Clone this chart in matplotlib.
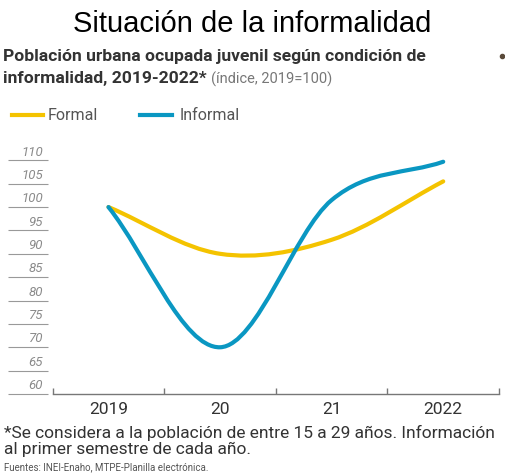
import numpy as np
import matplotlib
matplotlib.use('Agg')
import matplotlib.pyplot as plt
from matplotlib.path import Path
from matplotlib.patches import PathPatch

years = ['2019', '20', '21', '2022']
formal = [100, 90, 93, 105.5]
informal = [100, 70, 101.5, 109.7]
yticks = [60, 65, 70, 75, 80, 85, 90, 95, 100, 105, 110]

YELLOW = '#F4C300'
BLUE = '#0A97C2'
NARROW = ['Roboto', 'DejaVu Sans']


def smooth_path(vals):
    # cubic bezier through the points (catmull-rom style tangents)
    x = np.arange(len(vals), dtype=float)
    y = np.array(vals, dtype=float)
    m = np.gradient(y)
    verts = [(x[0], y[0])]
    codes = [Path.MOVETO]
    for i in range(len(x) - 1):
        verts += [(x[i] + 1 / 3, y[i] + m[i] / 3),
                  (x[i + 1] - 1 / 3, y[i + 1] - m[i + 1] / 3),
                  (x[i + 1], y[i + 1])]
        codes += [Path.CURVE4] * 3
    return Path(verts, codes)


W, H = 505, 477
fig = plt.figure(figsize=(W / 100, H / 100), dpi=100)
ax = fig.add_axes([52.7 / W, 1 - 395 / H, 446.3 / W, 243 / H])
ax.set_xlim(-0.5, 3.5)
ax.set_ylim(60, 112)

for vals, col in [(formal, YELLOW), (informal, BLUE)]:
    ax.add_patch(PathPatch(smooth_path(vals), facecolor='none', edgecolor=col,
                           lw=3, capstyle='round', joinstyle='round'))

for s in ['top', 'right', 'left']:
    ax.spines[s].set_visible(False)
ax.spines['bottom'].set_color('#777777')
ax.spines['bottom'].set_linewidth(1)
ax.set_yticks([])
ax.set_xticks([-0.5, 0.5, 1.5, 2.5, 3.5])
ax.set_xticklabels([])
ax.tick_params(axis='x', direction='in', length=4, color='#777777', width=1)
for i, lab in enumerate(years):
    ax.text(i, -0.03, lab, transform=ax.get_xaxis_transform(), ha='center', va='top',
            fontsize=12.5, color='#333333', family=NARROW)

# y labels with short rules at the left
ytr = ax.get_yaxis_transform()
ax.hlines(yticks, -0.100, -0.0105, transform=ytr, color='#999999', lw=0.8, clip_on=False)
for v in yticks:
    ax.text(-0.0217, v + 0.6, str(v), transform=ytr, ha='right', va='bottom',
            fontsize=9.5, style='italic', color='#8a8a8a', family=NARROW)

# titles
fig.text(0.5, 1 - 24 / H, 'Situación de la informalidad', ha='center', va='center',
         fontsize=21, family='Liberation Sans', color='black')
fig.text(3 / W, 1 - 56 / H, 'Población urbana ocupada juvenil según condición de',
         ha='left', va='center', fontsize=12.6, weight='bold', color='#333333', family=NARROW)
t = fig.text(3 / W, 1 - 79 / H, 'informalidad, 2019-2022*',
             ha='left', va='center', fontsize=12.6, weight='bold', color='#333333', family=NARROW)
fig.canvas.draw()
bb = t.get_window_extent()
fig.text(bb.x1 / W + 4 / W, 1 - 79 / H, '(índice, 2019=100)', ha='left', va='center',
         fontsize=10.5, color='#777777', family=NARROW)
fig.add_artist(plt.Line2D([502 / W], [1 - 57 / H], marker='o', ms=3, color='#5a4a3a'))

# legend
fig.add_artist(plt.Line2D([12 / W, 43 / W], [1 - 116 / H] * 2, color=YELLOW, lw=3))
fig.text(48 / W, 1 - 116 / H, 'Formal', ha='left', va='center', fontsize=11.5,
         color='#555555', family=NARROW)
fig.add_artist(plt.Line2D([140 / W, 172 / W], [1 - 116 / H] * 2, color=BLUE, lw=3))
fig.text(180 / W, 1 - 116 / H, 'Informal', ha='left', va='center', fontsize=11.5,
         color='#555555', family=NARROW)

# footnotes
fig.text(4 / W, 1 - 433 / H, '*Se considera a la población de entre 15 a 29 años. Información',
         ha='left', va='center', fontsize=12.5, color='#333333', family=NARROW)
fig.text(4 / W, 1 - 449 / H, 'al primer semestre de cada año.',
         ha='left', va='center', fontsize=12.5, color='#333333', family=NARROW)
fig.text(4 / W, 1 - 467 / H, 'Fuentes: INEI-Enaho, MTPE-Planilla electrónica.',
         ha='left', va='center', fontsize=7, color='#555555', family=NARROW)

fig.savefig('out.png', dpi=100)
